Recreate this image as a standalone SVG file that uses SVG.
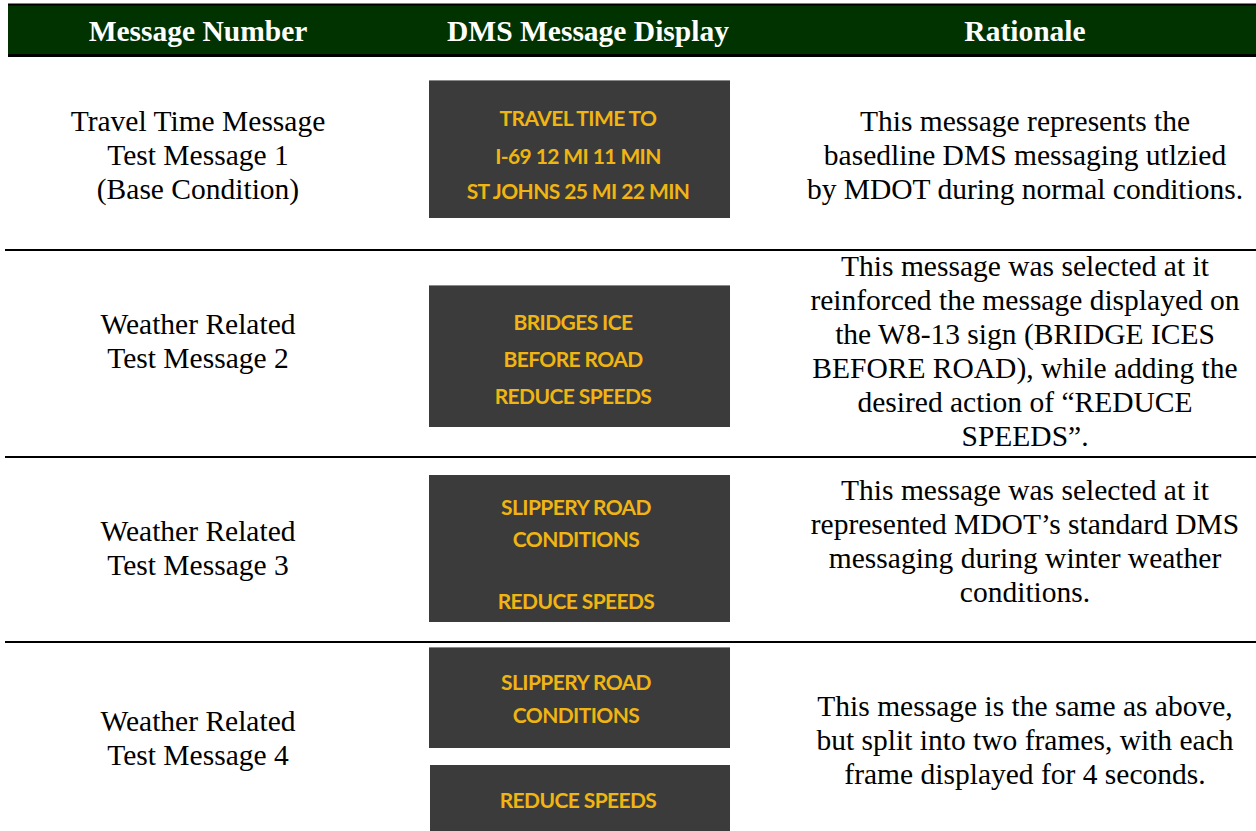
<svg xmlns="http://www.w3.org/2000/svg" width="1256" height="831" viewBox="0 0 1256 831">
<style>
.hd{font-family:"Liberation Serif",serif;font-weight:bold;font-size:29.5px;fill:#fff;text-anchor:middle}
.tx{font-family:"Liberation Serif",serif;font-size:29.5px;fill:#000;text-anchor:middle}
.sg{fill:#3b3b3b}
.sgt{fill:#8a8a8a}
.dm{font-family:"Lato","Open Sans",sans-serif;font-weight:bold;font-size:21px;fill:#f0b512;text-anchor:middle;letter-spacing:-0.6px}
.rule{stroke:#000;stroke-width:2}
</style>
<g id="header">
<rect x="8" y="4" width="1248" height="52" fill="#003300"/>
<line x1="8" y1="4.5" x2="1256" y2="4.5" stroke="#000" stroke-width="2"/>
<line x1="8" y1="55.5" x2="1256" y2="55.5" stroke="#000" stroke-width="3"/>
<text class="hd" x="198" y="41">Message Number</text>
<text class="hd" x="588" y="41">DMS Message Display</text>
<text class="hd" x="1025" y="41">Rationale</text>
</g>
<g id="connectors">
<line class="rule" x1="5" y1="250" x2="1256" y2="250"/>
<line class="rule" x1="5" y1="457" x2="1256" y2="457"/>
<line class="rule" x1="5" y1="642" x2="1256" y2="642"/>
</g>
<g id="row1">
<text class="tx" x="198" y="131">Travel Time Message</text>
<text class="tx" x="198" y="165">Test Message 1</text>
<text class="tx" x="198" y="199">(Base Condition)</text>
<rect class="sg" x="429" y="80" width="301" height="138"/>
<rect class="sgt" x="429" y="80" width="301" height="1"/>
<text class="dm" x="578" y="126">TRAVEL TIME TO</text>
<text class="dm" x="578" y="164">I-69 12 MI 11 MIN</text>
<text class="dm" x="578" y="199">ST JOHNS 25 MI 22 MIN</text>
<text class="tx" x="1025" y="131">This message represents the</text>
<text class="tx" x="1025" y="165">basedline DMS messaging utlzied</text>
<text class="tx" x="1025" y="199">by MDOT during normal conditions.</text>
</g>
<g id="row2">
<text class="tx" x="198" y="334">Weather Related</text>
<text class="tx" x="198" y="368">Test Message 2</text>
<rect class="sg" x="429" y="285" width="301" height="142"/>
<rect class="sgt" x="429" y="285" width="301" height="1"/>
<text class="dm" x="573" y="330">BRIDGES ICE</text>
<text class="dm" x="573" y="367">BEFORE ROAD</text>
<text class="dm" x="573" y="404">REDUCE SPEEDS</text>
<text class="tx" x="1025" y="276">This message was selected at it</text>
<text class="tx" x="1025" y="310">reinforced the message displayed on</text>
<text class="tx" x="1025" y="344">the W8-13 sign (BRIDGE ICES</text>
<text class="tx" x="1025" y="378">BEFORE ROAD), while adding the</text>
<text class="tx" x="1025" y="412">desired action of “REDUCE</text>
<text class="tx" x="1025" y="446">SPEEDS”.</text>
</g>
<g id="row3">
<text class="tx" x="198" y="541">Weather Related</text>
<text class="tx" x="198" y="575">Test Message 3</text>
<rect class="sg" x="429" y="475" width="301" height="147"/>
<text class="dm" x="576" y="515">SLIPPERY ROAD</text>
<text class="dm" x="576" y="547">CONDITIONS</text>
<text class="dm" x="576" y="609">REDUCE SPEEDS</text>
<text class="tx" x="1025" y="500">This message was selected at it</text>
<text class="tx" x="1025" y="534">represented MDOT’s standard DMS</text>
<text class="tx" x="1025" y="568">messaging during winter weather</text>
<text class="tx" x="1025" y="602">conditions.</text>
</g>
<g id="row4">
<text class="tx" x="198" y="731">Weather Related</text>
<text class="tx" x="198" y="765">Test Message 4</text>
<rect class="sg" x="429" y="647" width="301" height="101"/>
<rect class="sgt" x="429" y="647" width="301" height="1"/>
<text class="dm" x="576" y="690">SLIPPERY ROAD</text>
<text class="dm" x="576" y="723">CONDITIONS</text>
<rect class="sg" x="430" y="765" width="300" height="66"/>
<text class="dm" x="578" y="808">REDUCE SPEEDS</text>
<text class="tx" x="1025" y="716">This message is the same as above,</text>
<text class="tx" x="1025" y="750">but split into two frames, with each</text>
<text class="tx" x="1025" y="784">frame displayed for 4 seconds.</text>
</g>
</svg>
